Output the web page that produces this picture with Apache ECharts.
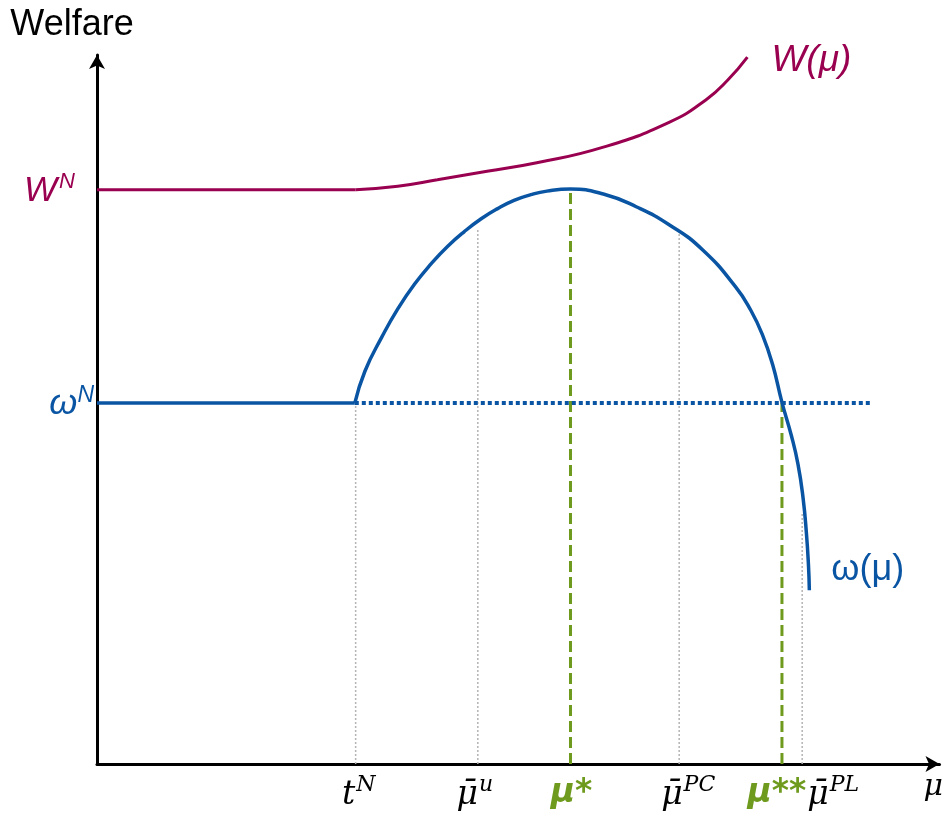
<!DOCTYPE html>
<html><head><meta charset="utf-8">
<script src="https://cdn.jsdelivr.net/npm/echarts@6/dist/echarts.min.js"></script>
<style>html,body{margin:0;padding:0;background:#fff}#c{width:946px;height:817px}</style>
</head><body><div id="c"></div>
<script>
// ---- data ----
const wLevel = 81.0;                       // W^N
const wFlatX = [0, 30.7];
const wCurveX = [30.7, 35.7, 40.4, 46.3, 52.2, 60.1, 67.9, 72.3, 74.9, 77.2];
const wCurveY = [81.0, 81.5, 82.4, 83.6, 84.8, 87.0, 90.5, 93.7, 96.5, 99.7];

const omegaLevel = 50.9;                   // omega^N
const omegaFlatX = [0, 30.6];
const omegaDottedX = [30.6, 92.0];
const omegaCurveX = [30.6, 31.8, 33.8, 35.7, 37.7, 39.7, 41.6, 43.6, 45.6, 47.5, 49.5, 51.5, 53.4, 56.2, 60.1, 64.0, 68.0, 71.9, 75.8, 77.6, 79.0, 80.2, 81.3, 82.4, 83.2, 83.8, 84.2, 84.45, 84.55];
const omegaCurveY = [50.9, 55.4, 60.2, 64.2, 67.7, 70.6, 73.0, 75.1, 76.9, 78.3, 79.5, 80.3, 80.8, 81.1, 80.4, 78.6, 76.0, 72.5, 67.3, 64.0, 60.5, 56.3, 51.0, 46.4, 42.3, 37.6, 32.6, 28.0, 24.5];

const tickX = [30.7, 45.2, 56.2, 69.1, 81.3, 83.7];
const tickLabels = ['{it|t}{sup|N}', '{it|μ\u0304}{sup|u}', '{g|μ*}', '{it|μ\u0304}{sup|PC}', '{g|μ**}', '{it|μ\u0304}{sup|PL}'];

const grayGuideX = [30.7, 45.2, 69.1, 83.7];
const grayGuideTop = [50.9, 75.3, 75.0, 35.5];
const greenGuideX = [56.2, 81.3];
const greenGuideTop = [81.0, 50.9];

// ---- styles ----
const MAROON = '#99004F', BLUE = '#0A55A3', GREEN = '#6E9A1E', GRAY = '#b4b4b4';
const tickOffsets = [[3, 0], [-3, 0], [1, 0], [9, 0], [-5, 0], [31, 0]];

const chart = echarts.init(document.getElementById('c'));

const series = [];
grayGuideX.forEach((x, i) => series.push({
  type: 'line', z: 1, symbol: 'none', silent: true,
  data: [[x, 0], [x, grayGuideTop[i]]],
  lineStyle: { color: GRAY, width: 1.5, type: [2, 2] }
}));
greenGuideX.forEach((x, i) => series.push({
  type: 'line', z: 2, symbol: 'none', silent: true,
  data: [[x, 0], [x, greenGuideTop[i]]],
  lineStyle: { color: GREEN, width: 3, type: [11, 5] }
}));
series.push({
  type: 'line', z: 3, symbol: 'none',
  data: omegaDottedX.map(x => [x, omegaLevel]),
  lineStyle: { color: BLUE, width: 4, type: [4, 3] }
});
series.push({
  type: 'line', z: 4, symbol: 'none',
  data: wFlatX.map(x => [x, wLevel]),
  lineStyle: { color: MAROON, width: 3 }
});
series.push({
  type: 'line', z: 4, symbol: 'none', smooth: 0.5,
  data: wCurveX.map((x, i) => [x, wCurveY[i]]),
  lineStyle: { color: MAROON, width: 3 },
  endLabel: {
    show: true, distance: 24, offset: [0, 4],
    formatter: 'W(μ)',
    color: MAROON, fontFamily: 'Liberation Sans', fontStyle: 'italic', fontSize: 37
  }
});
series.push({
  type: 'line', z: 4, symbol: 'none',
  data: omegaFlatX.map(x => [x, omegaLevel]),
  lineStyle: { color: BLUE, width: 3.5 }
});
series.push({
  type: 'line', z: 4, symbol: 'none', smooth: 0.5,
  data: omegaCurveX.map((x, i) => [x, omegaCurveY[i]]),
  lineStyle: { color: BLUE, width: 3.5 },
  endLabel: {
    show: true, distance: 22, offset: [0, -20],
    formatter: 'ω(μ)',
    color: BLUE, fontFamily: 'Liberation Sans', fontSize: 36
  }
});
// x tick labels
series.push({
  type: 'scatter', z: 5, symbolSize: 0, silent: true,
  itemStyle: { opacity: 1 },
  data: tickX.map((x, i) => ({
    value: [x, 0],
    label: { offset: tickOffsets[i] }
  })),
  label: {
    show: true, position: 'bottom', distance: 10, opacity: 1,
    formatter: p => tickLabels[p.dataIndex],
    rich: {
      it: { fontFamily: 'DejaVu Serif', fontStyle: 'italic', fontSize: 33, color: '#000', lineHeight: 38, verticalAlign: 'bottom' },
      sup: { fontFamily: 'DejaVu Serif', fontStyle: 'italic', fontSize: 22, color: '#000', lineHeight: 22, verticalAlign: 'top', padding: [0, 0, 0, 1] },
      g: { fontFamily: 'DejaVu Sans', fontWeight: 'bold', fontStyle: 'italic', fontSize: 33, color: GREEN, lineHeight: 38 }
    }
  }
});
// y level labels
series.push({
  type: 'scatter', z: 5, symbolSize: 0, silent: true,
  itemStyle: { opacity: 1 },
  data: [
    { value: [0, wLevel], label: { distance: 22, formatter: '{m|W}{s|N}' } },
    { value: [0, omegaLevel], label: { distance: 3, formatter: '{b|ω}{t|N}' } }
  ],
  label: {
    show: true, position: 'left', opacity: 1,
    rich: {
      m: { fontFamily: 'Liberation Sans', fontStyle: 'italic', fontSize: 35, color: MAROON, lineHeight: 38, verticalAlign: 'bottom' },
      s: { fontFamily: 'Liberation Sans', fontStyle: 'italic', fontSize: 22, color: MAROON, lineHeight: 24, verticalAlign: 'top', padding: [0, 0, 0, 2] },
      b: { fontFamily: 'Liberation Sans', fontStyle: 'italic', fontSize: 36, color: BLUE, lineHeight: 38, verticalAlign: 'bottom' },
      t: { fontFamily: 'Liberation Sans', fontStyle: 'italic', fontSize: 23, color: BLUE, lineHeight: 24, verticalAlign: 'top' }
    }
  }
});

chart.setOption({
  animation: false,
  backgroundColor: '#fff',
  grid: { left: 97, right: 0, top: 55, bottom: 53, containLabel: false },
  xAxis: {
    type: 'value', min: 0, max: 100,
    axisLine: { show: true, lineStyle: { color: '#000', width: 3 }, symbol: ['none', 'arrow'], symbolSize: [12, 14] },
    axisTick: { show: false }, axisLabel: { show: false }, splitLine: { show: false },
    name: 'μ', nameLocation: 'end', nameGap: -16,
    nameTextStyle: { fontFamily: 'DejaVu Serif', fontStyle: 'italic', fontSize: 30, color: '#000', verticalAlign: 'top', padding: [8, 0, 0, 0] }
  },
  yAxis: {
    type: 'value', min: 0, max: 100,
    axisLine: { show: true, lineStyle: { color: '#000', width: 3 }, symbol: ['none', 'arrow'], symbolSize: [12, 14] },
    axisTick: { show: false }, axisLabel: { show: false }, splitLine: { show: false },
    name: 'Welfare', nameLocation: 'end', nameGap: 12,
    nameTextStyle: { fontFamily: 'Liberation Sans', fontSize: 36, color: '#000', align: 'center', padding: [0, 50, 0, 0] }
  },
  series: series
});
</script></body></html>
